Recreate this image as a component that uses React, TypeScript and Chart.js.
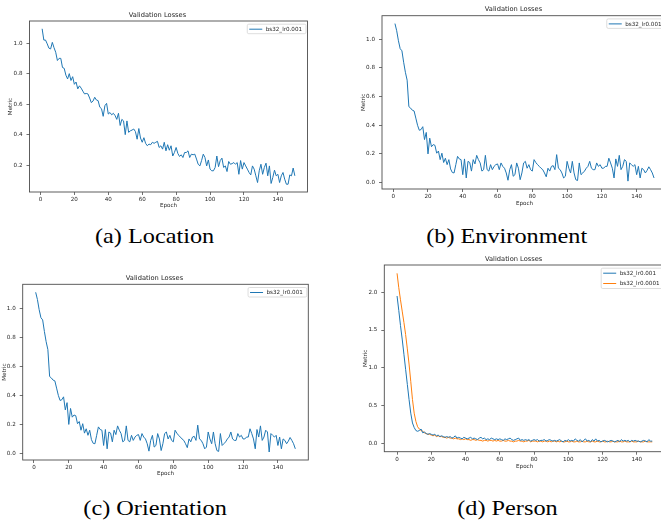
import React, { useEffect, useRef } from "react";
import { Chart, registerables } from "chart.js";

Chart.register(...registerables);

const FONT = "'DejaVu Sans', sans-serif";
const TEXT = "#262626";
const BLUE = "#1f77b4";
const ORANGE = "#ff7f0e";

const chartTitle = "Validation Losses";
const xAxisLabel = "Epoch";
const yAxisLabel = "Metric";
const seriesLr001 = "bs32_lr0.001";
const seriesLr0001 = "bs32_lr0.0001";

const xTicks = [0, 20, 40, 60, 80, 100, 120, 140];
const yTicksLocation = [0.2, 0.4, 0.6, 0.8, 1.0];
const yTicksUnit = [0.0, 0.2, 0.4, 0.6, 0.8, 1.0];
const yTicksPerson = [0.0, 0.5, 1.0, 1.5, 2.0];

// (a) Location, epochs 1..150
const locationLoss = [
  1.094, 1.02, 1.02, 0.995, 0.967, 0.962, 1.005, 0.97, 0.94, 0.886,
  0.9, 0.9, 0.84, 0.835, 0.79, 0.765, 0.8, 0.755, 0.78, 0.73,
  0.745, 0.7, 0.72, 0.705, 0.685, 0.667, 0.67, 0.667, 0.64, 0.61,
  0.62, 0.645, 0.627, 0.623, 0.58, 0.57, 0.52, 0.59, 0.605, 0.535,
  0.545, 0.53, 0.54, 0.525, 0.5, 0.54, 0.46, 0.5, 0.49, 0.4,
  0.49, 0.415, 0.425, 0.43, 0.437, 0.42, 0.37, 0.44, 0.378, 0.35,
  0.38, 0.343, 0.327, 0.338, 0.334, 0.35, 0.343, 0.35, 0.356, 0.316,
  0.327, 0.305, 0.35, 0.294, 0.334, 0.298, 0.327, 0.26, 0.283, 0.316,
  0.277, 0.257, 0.268, 0.25, 0.283, 0.283, 0.294, 0.25, 0.272, 0.268,
  0.272, 0.24, 0.206, 0.195, 0.23, 0.272, 0.25, 0.195, 0.234, 0.174,
  0.163, 0.163, 0.185, 0.26, 0.19, 0.23, 0.246, 0.185, 0.195, 0.158,
  0.224, 0.206, 0.21, 0.217, 0.206, 0.217, 0.14, 0.23, 0.174, 0.217,
  0.195, 0.174, 0.152, 0.136, 0.195, 0.174, 0.13, 0.086, 0.163, 0.206,
  0.14, 0.185, 0.213, 0.13, 0.195, 0.08, 0.12, 0.167, 0.13, 0.14,
  0.086, 0.13, 0.152, 0.108, 0.075, 0.075, 0.136, 0.13, 0.181, 0.13,
];

// (b) Environment, epochs 1..150
const environmentLoss = [
  1.11, 1.06, 0.99, 0.935, 0.92, 0.84, 0.77, 0.715, 0.53, 0.52,
  0.505, 0.5, 0.45, 0.4, 0.365, 0.37, 0.39, 0.3, 0.35, 0.2,
  0.31, 0.25, 0.265, 0.26, 0.205, 0.22, 0.16, 0.205, 0.14, 0.17,
  0.125, 0.16, 0.095, 0.07, 0.067, 0.125, 0.183, 0.165, 0.16, 0.055,
  0.165, 0.032, 0.148, 0.14, 0.08, 0.16, 0.13, 0.19, 0.16, 0.137,
  0.08, 0.09, 0.19, 0.09, 0.08, 0.125, 0.09, 0.113, 0.125, 0.13,
  0.09, 0.137, 0.113, 0.1, 0.067, 0.016, 0.09, 0.125, 0.044, 0.055,
  0.137, 0.1, 0.02, 0.067, 0.137, 0.148, 0.1, 0.125, 0.09, 0.08,
  0.16, 0.14, 0.125, 0.113, 0.1, 0.09, 0.067, 0.04, 0.1, 0.08,
  0.113, 0.118, 0.09, 0.195, 0.1, 0.09, 0.067, 0.032, 0.044, 0.148,
  0.1, 0.067, 0.148, 0.067, 0.02, 0.014, 0.137, 0.055, 0.067, 0.08,
  0.1, 0.113, 0.148, 0.1, 0.09, 0.09, 0.137, 0.113, 0.125, 0.1,
  0.1, 0.113, 0.113, 0.17, 0.137, 0.1, 0.032, 0.165, 0.113, 0.19,
  0.09, 0.113, 0.16, 0.148, 0.01, 0.137, 0.125, 0.113, 0.125, 0.055,
  0.113, 0.032, 0.1, 0.09, 0.067, 0.085, 0.11, 0.09, 0.067, 0.032,
];

// (c) Orientation, epochs 1..150 (same curve as Environment in the figure)
const orientationLoss = environmentLoss;

// (d) Person, epochs 0..149
const personLossLr001 = [
  1.95, 1.76, 1.56, 1.38, 1.18, 0.98, 0.78, 0.58, 0.4, 0.27, 0.21,
  0.17, 0.16, 0.17, 0.19, 0.14, 0.15, 0.13, 0.12, 0.13, 0.12,
  0.11, 0.12, 0.1, 0.11, 0.09, 0.1, 0.09, 0.08, 0.09, 0.08,
  0.09, 0.07, 0.08, 0.1, 0.07, 0.08, 0.07, 0.06, 0.08, 0.07,
  0.06, 0.07, 0.08, 0.06, 0.07, 0.06, 0.05, 0.07, 0.08, 0.06,
  0.07, 0.05, 0.06, 0.05, 0.07, 0.06, 0.05, 0.06, 0.05, 0.06,
  0.05, 0.04, 0.06, 0.05, 0.06, 0.07, 0.05, 0.04, 0.05, 0.06,
  0.07, 0.04, 0.05, 0.04, 0.05, 0.04, 0.05, 0.03, 0.04, 0.05,
  0.04, 0.05, 0.03, 0.04, 0.04, 0.05, 0.03, 0.04, 0.05, 0.04,
  0.03, 0.04, 0.03, 0.04, 0.05, 0.03, 0.02, 0.04, 0.03, 0.05,
  0.03, 0.04, 0.03, 0.06, 0.04, 0.03, 0.05, 0.02, 0.04, 0.06,
  0.03, 0.04, 0.02, 0.05, 0.03, 0.06, 0.03, 0.04, 0.02, 0.03,
  0.04, 0.03, 0.02, 0.03, 0.04, 0.03, 0.02, 0.03, 0.04, 0.02,
  0.05, 0.03, 0.04, 0.03, 0.04, 0.02, 0.04, 0.03, 0.04, 0.03,
  0.03, 0.02, 0.03, 0.04, 0.03, 0.02, 0.05, 0.03, 0.03,
];

const personLossLr0001 = [
  2.25, 2.06, 1.9, 1.75, 1.6, 1.44, 1.25, 1.05, 0.82, 0.58, 0.4,
  0.29, 0.22, 0.19, 0.17, 0.16, 0.14, 0.13, 0.12, 0.12, 0.11,
  0.1, 0.11, 0.09, 0.1, 0.09, 0.09, 0.08, 0.08, 0.07, 0.08,
  0.07, 0.07, 0.06, 0.07, 0.06, 0.06, 0.05, 0.06, 0.05, 0.06,
  0.05, 0.05, 0.04, 0.05, 0.05, 0.04, 0.05, 0.04, 0.04, 0.03,
  0.04, 0.04, 0.03, 0.04, 0.04, 0.03, 0.04, 0.03, 0.04, 0.03,
  0.03, 0.04, 0.03, 0.03, 0.04, 0.03, 0.03, 0.02, 0.03, 0.03,
  0.04, 0.03, 0.03, 0.02, 0.03, 0.03, 0.04, 0.02, 0.03, 0.03,
  0.03, 0.02, 0.03, 0.03, 0.02, 0.03, 0.03, 0.02, 0.03, 0.02,
  0.03, 0.03, 0.02, 0.03, 0.02, 0.03, 0.02, 0.02, 0.03, 0.02,
  0.02, 0.03, 0.02, 0.02, 0.03, 0.02, 0.02, 0.03, 0.02, 0.02,
  0.03, 0.02, 0.02, 0.03, 0.02, 0.02, 0.03, 0.02, 0.02, 0.03,
  0.02, 0.02, 0.03, 0.02, 0.02, 0.03, 0.02, 0.02, 0.02, 0.03,
  0.02, 0.02, 0.03, 0.02, 0.02, 0.02, 0.03, 0.02, 0.02, 0.02,
  0.03, 0.02, 0.02, 0.02, 0.03, 0.02, 0.02, 0.02, 0.02,
];

const captions = ["(a) Location", "(b) Environment", "(c) Orientation", "(d) Person"];

type Series = { label: string; values: number[]; start: number; color: string };
type PanelCfg = {
  canvas: { left: number; top: number; width: number; height: number };
  area: { left: number; top: number; right: number; bottom: number };
  xRange: [number, number];
  yRange: [number, number];
  yTicks: number[];
  series: Series[];
  yLabelOffset: number;
  xLabelOffset: number;
};

const panels: PanelCfg[] = [
  {
    canvas: { left: 0, top: 0, width: 330, height: 215 },
    area: { left: 29.5, top: 21, right: 307.5, bottom: 192 },
    xRange: [-6.45, 157.45],
    yRange: [0.024, 1.145],
    yTicks: yTicksLocation,
    series: [{ label: seriesLr001, values: locationLoss, start: 1, color: BLUE }],
    yLabelOffset: 18.5,
    xLabelOffset: 13.8,
  },
  {
    canvas: { left: 330, top: 0, width: 345, height: 215 },
    area: { left: 382, top: 15.7, right: 667, bottom: 189 },
    xRange: [-6.45, 157.45],
    yRange: [-0.045, 1.165],
    yTicks: yTicksUnit,
    series: [{ label: seriesLr001, values: environmentLoss, start: 1, color: BLUE }],
    yLabelOffset: 19.3,
    xLabelOffset: 15,
  },
  {
    canvas: { left: 0, top: 255, width: 330, height: 225 },
    area: { left: 22.7, top: 284.3, right: 308.3, bottom: 460 },
    xRange: [-6.45, 157.45],
    yRange: [-0.045, 1.165],
    yTicks: yTicksUnit,
    series: [{ label: seriesLr001, values: orientationLoss, start: 1, color: BLUE }],
    yLabelOffset: 18.7,
    xLabelOffset: 14,
  },
  {
    canvas: { left: 330, top: 250, width: 345, height: 225 },
    area: { left: 384.3, top: 265, right: 665, bottom: 451.7 },
    xRange: [-7.45, 156.45],
    yRange: [-0.11, 2.36],
    yTicks: yTicksPerson,
    series: [
      { label: seriesLr001, values: personLossLr001, start: 0, color: BLUE },
      { label: seriesLr0001, values: personLossLr0001, start: 0, color: ORANGE },
    ],
    yLabelOffset: 20,
    xLabelOffset: 15,
  },
];

const TICK_FS = 5.6;
const TITLE_FS = 6.7;

const mplDecor = {
  id: "mplDecor",
  afterDatasetsDraw(chart: any) {
    const { ctx, chartArea: a } = chart;
    ctx.save();
    // axes frame (spines)
    ctx.strokeStyle = "#4d4d4d";
    ctx.lineWidth = 0.9;
    ctx.strokeRect(a.left, a.top, a.right - a.left, a.bottom - a.top);
    // legend inside upper right
    const items = chart.data.datasets.map((d: any) => ({ label: d.label, color: d.borderColor }));
    ctx.font = `${TICK_FS}px ${FONT}`;
    const tw = Math.max(...items.map((i: any) => ctx.measureText(i.label).width));
    const boxW = 2 + 13 + 3.5 + tw + 4;
    const boxH = 9.5 + 10.8 * (items.length - 1);
    const right = a.right - 1.5;
    const left = right - boxW;
    const top = a.top + 3.2;
    ctx.beginPath();
    if (ctx.roundRect) ctx.roundRect(left, top, boxW, boxH, 1.5);
    else ctx.rect(left, top, boxW, boxH);
    ctx.fillStyle = "rgba(255,255,255,0.8)";
    ctx.fill();
    ctx.strokeStyle = "#d4d4d4";
    ctx.lineWidth = 0.8;
    ctx.stroke();
    items.forEach((it: any, i: number) => {
      const cy = top + 5 + 10.3 * i;
      ctx.beginPath();
      ctx.moveTo(left + 2, cy);
      ctx.lineTo(left + 15, cy);
      ctx.strokeStyle = it.color;
      ctx.lineWidth = 1;
      ctx.stroke();
      ctx.fillStyle = TEXT;
      ctx.textBaseline = "middle";
      ctx.textAlign = "left";
      ctx.fillText(it.label, left + 18.5, cy + 0.3);
    });
    ctx.restore();
  },
};

function Panel({ cfg }: { cfg: PanelCfg }) {
  const ref = useRef<HTMLCanvasElement>(null);
  useEffect(() => {
    if (!ref.current) return;
    const { canvas: cv, area } = cfg;
    const Wy = 22;
    const Hx = 20;
    const titleLH = TITLE_FS * 1.2;
    const titlePadBottom = 6 - titleLH / 2;
    const titleH = titleLH + titlePadBottom;
    const axisLH = TICK_FS * 1.2;
    const padding = {
      left: area.left - cv.left - Wy,
      top: area.top - cv.top - titleH,
      right: cv.left + cv.width - area.right,
      bottom: cv.top + cv.height - area.bottom - Hx,
    };
    const tickFont = { family: FONT, size: TICK_FS, lineHeight: 1.2 };
    const gridOpts = {
      drawOnChartArea: false,
      drawTicks: true,
      tickLength: 3,
      color: "#4d4d4d",
      lineWidth: 0.8,
    };
    const chart = new Chart(ref.current, {
      type: "line",
      data: {
        datasets: cfg.series.map((s) => ({
          label: s.label,
          data: s.values.map((v, i) => ({ x: s.start + i, y: v })),
          borderColor: s.color,
          backgroundColor: s.color,
          borderWidth: 1,
          pointRadius: 0,
          fill: false,
          tension: 0,
        })),
      },
      options: {
        animation: false,
        responsive: false,
        devicePixelRatio: 1,
        layout: { padding },
        events: [],
        plugins: {
          legend: { display: false },
          tooltip: { enabled: false },
          title: {
            display: true,
            text: chartTitle,
            color: TEXT,
            font: { family: FONT, size: TITLE_FS, lineHeight: 1.2, weight: "normal" },
            padding: { top: 0, bottom: titlePadBottom },
          },
        },
        scales: {
          x: {
            type: "linear",
            min: cfg.xRange[0],
            max: cfg.xRange[1],
            afterBuildTicks: (s: any) => {
              s.ticks = xTicks.map((v) => ({ value: v }));
            },
            afterFit: (s: any) => {
              s.height = Hx;
            },
            grid: gridOpts,
            border: { display: false },
            ticks: {
              font: tickFont,
              color: TEXT,
              padding: 1.5,
              maxRotation: 0,
              autoSkip: false,
              callback: (v: any) => String(v),
            },
            title: {
              display: true,
              text: xAxisLabel,
              color: TEXT,
              font: tickFont,
              padding: { top: 0, bottom: Math.max(0, Hx - cfg.xLabelOffset - axisLH / 2) },
            },
          },
          y: {
            type: "linear",
            min: cfg.yRange[0],
            max: cfg.yRange[1],
            afterBuildTicks: (s: any) => {
              s.ticks = cfg.yTicks.map((v) => ({ value: v }));
            },
            afterFit: (s: any) => {
              s.width = Wy;
            },
            grid: gridOpts,
            border: { display: false },
            ticks: {
              font: tickFont,
              color: TEXT,
              padding: 4,
              autoSkip: false,
              callback: (v: any) => Number(v).toFixed(1),
            },
            title: {
              display: true,
              text: yAxisLabel,
              color: TEXT,
              font: tickFont,
              padding: { top: Math.max(0, Wy - cfg.yLabelOffset - axisLH / 2), bottom: 0 },
            },
          },
        },
      } as any,
      plugins: [mplDecor],
    });
    return () => chart.destroy();
  }, [cfg]);
  const cv = cfg.canvas;
  return (
    <canvas
      ref={ref}
      width={cv.width}
      height={cv.height}
      style={{ position: "absolute", left: cv.left, top: cv.top, width: cv.width, height: cv.height }}
    />
  );
}

const captionPos = [
  { cx: 154.5, top: 225.7 },
  { cx: 507, top: 225.7 },
  { cx: 155, top: 498.4 },
  { cx: 507, top: 498.4 },
];

export default function App() {
  return (
    <div
      style={{
        position: "fixed",
        left: 0,
        top: 0,
        width: 661,
        height: 525,
        overflow: "hidden",
        background: "#ffffff",
      }}
    >
      {panels.map((p, i) => (
        <Panel key={i} cfg={p} />
      ))}
      {captions.map((c, i) => (
        <div
          key={c}
          style={{
            position: "absolute",
            left: captionPos[i].cx - 150,
            top: captionPos[i].top,
            width: 300,
            textAlign: "center",
            fontFamily: "'Liberation Serif', 'Times New Roman', serif",
            fontSize: 21,
            lineHeight: "21px",
            color: "#000",
            whiteSpace: "nowrap",
          }}
        >
          <span style={{ display: "inline-block", transform: "scaleX(1.155)" }}>{c}</span>
        </div>
      ))}
    </div>
  );
}
